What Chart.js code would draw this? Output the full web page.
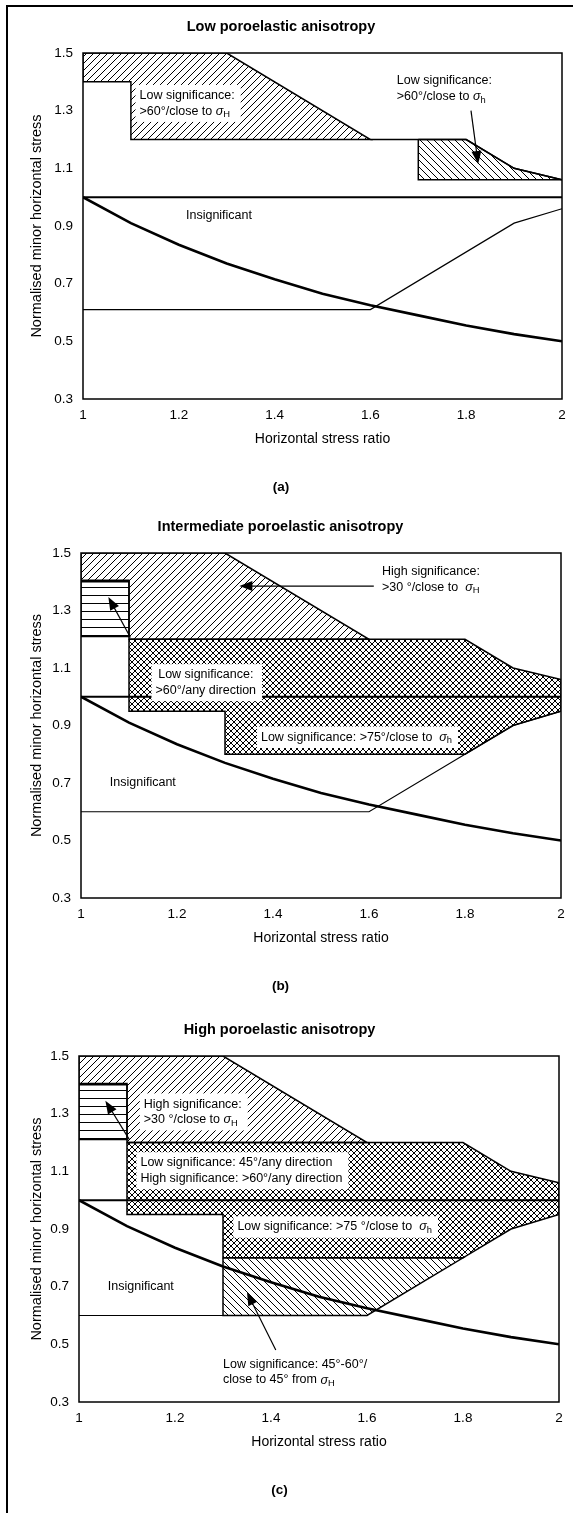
<!DOCTYPE html>
<html>
<head>
<meta charset="utf-8">
<script src="https://cdn.jsdelivr.net/npm/chart.js@4.4.1/dist/chart.umd.min.js"></script>
<style>
  body { margin: 0; background: #fff; }
  #page { position: relative; width: 576px; height: 1513px; overflow: hidden; }
  #frame { position: absolute; left: 6px; top: 5px; width: 565px; height: 1520px; border-left: 2px solid #000; border-top: 2px solid #000; }
  canvas { position: absolute; left: 0; }
</style>
</head>
<body>
<div id="page">
  <div id="frame"></div>
  <canvas id="chartA" width="576" height="500" style="top:0px"></canvas>
  <canvas id="chartB" width="576" height="500" style="top:500px"></canvas>
  <canvas id="chartC" width="576" height="510" style="top:1003px"></canvas>
</div>
<script>
// tick labels
const xTicks = [1, 1.2, 1.4, 1.6, 1.8, 2];
const yTicks = [0.3, 0.5, 0.7, 0.9, 1.1, 1.3, 1.5];

// thick curve
const curveRatio = [1, 1.1, 1.2, 1.3, 1.4, 1.5, 1.6, 1.7, 1.8, 1.9, 2];
const curveStress = [1.0, 0.91, 0.835, 0.77, 0.715, 0.665, 0.625, 0.59, 0.555, 0.525, 0.5];

// horizontal line at 1.0
const unitRatio = [1, 2];
const unitStress = [1, 1];

// thin lower boundary
const lowerRatio = [1, 1.6, 1.9, 2];
const lowerStressA = [0.61, 0.61, 0.91, 0.96];
const lowerStressB = [0.6, 0.6, 0.9, 0.95];
const lowerRatioC = [1, 1.3];
const lowerStressC = [0.6, 0.6];

// upper hatched zone
const upperRatio = [1, 1.3, 1.6, 1.1, 1.1, 1, 1];
const upperStress = [1.5, 1.5, 1.2, 1.2, 1.4, 1.4, 1.5];

// ridge on the right (panel a)
const ridgeRatio = [1.6, 1.8, 1.9, 2];
const ridgeStress = [1.2, 1.2, 1.1, 1.06];

// small hatched corner (panel a)
const cornerRatio = [1.7, 1.8, 1.9, 2, 1.7, 1.7];
const cornerStress = [1.2, 1.2, 1.1, 1.06, 1.06, 1.2];

// box with horizontal lines
const boxRatio = [1, 1.1, 1.1, 1, 1];
const boxStress = [1.405, 1.405, 1.21, 1.21, 1.405];

// cross hatched zone
const crossRatio = [1.1, 1.8, 1.9, 2, 2, 1.9, 1.8, 1.3, 1.3, 1.1, 1.1];
const crossStress = [1.2, 1.2, 1.1, 1.06, 0.95, 0.9, 0.8, 0.8, 0.95, 0.95, 1.2];

// lower wedge (panel c)
const wedgeRatio = [1.3, 1.8, 1.6, 1.3, 1.3];
const wedgeStress = [0.8, 0.8, 0.6, 0.6, 0.8];

const FONT = '"Liberation Sans", Arial, Helvetica, sans-serif';
Chart.defaults.font.family = FONT;
Chart.defaults.color = '#000';

const pts = (xs, ys) => xs.map((x, i) => ({ x: x, y: ys[i] }));

// hatch patterns
function hatch(w, h, draw) {
  const c = document.createElement('canvas');
  c.width = w; c.height = h;
  const g = c.getContext('2d');
  g.strokeStyle = '#000';
  g.lineWidth = 1;
  g.beginPath();
  draw(g, w, h);
  g.stroke();
  return g.createPattern(c, 'repeat');
}
const forward = hatch(7, 7, (g, s) => { for (const k of [-s, 0, s]) { g.moveTo(k, s); g.lineTo(k + s, 0); } });
const backward = hatch(7, 7, (g, s) => { for (const k of [-s, 0, s]) { g.moveTo(k, 0); g.lineTo(k + s, s); } });
const cross = hatch(6, 6, (g, s) => {
  for (const k of [-s, 0, s]) { g.moveTo(k, s); g.lineTo(k + s, 0); g.moveTo(k, 0); g.lineTo(k + s, s); }
});
const stripes = hatch(8, 8, (g, w, h) => { g.moveTo(0, h - 0.5); g.lineTo(w, h - 0.5); });

function line(xs, ys, width) {
  return { data: pts(xs, ys), fill: false, borderColor: '#000', borderWidth: width, pointRadius: 0 };
}
function area(xs, ys, pattern) {
  return { data: pts(xs, ys), fill: 'shape', backgroundColor: pattern, borderColor: '#000', borderWidth: 1.5, pointRadius: 0 };
}

// text with optional sigma subscript written as σ_H
function pieces(str) {
  const i = str.indexOf('σ_');
  if (i < 0) return [{ t: str }];
  return [{ t: str.slice(0, i) }, { t: 'σ', it: true }, { t: str.slice(i + 2), sub: true }];
}
function pieceFont(p, size) {
  return (p.it ? 'italic ' : '') + (p.sub ? size * 0.75 : size) + 'px ' + FONT;
}
function measureRich(ctx, str, size) {
  let w = 0;
  pieces(str).forEach(p => { ctx.font = pieceFont(p, size); w += ctx.measureText(p.t).width; });
  return w;
}
function drawRich(ctx, str, x, y, size) {
  ctx.textBaseline = 'middle';
  ctx.textAlign = 'left';
  pieces(str).forEach(p => {
    ctx.font = pieceFont(p, size);
    ctx.fillText(p.t, x, p.sub ? y + 3.5 : y);
    x += ctx.measureText(p.t).width;
  });
}

function drawArrow(ctx, x1, y1, x2, y2) {
  const ang = Math.atan2(y2 - y1, x2 - x1);
  const len = 13, half = 5;
  ctx.strokeStyle = '#000';
  ctx.lineWidth = 1.2;
  ctx.beginPath();
  ctx.moveTo(x1, y1);
  ctx.lineTo(x2 - Math.cos(ang) * len * 0.8, y2 - Math.sin(ang) * len * 0.8);
  ctx.stroke();
  ctx.fillStyle = '#000';
  ctx.beginPath();
  ctx.moveTo(x2, y2);
  ctx.lineTo(x2 - Math.cos(ang) * len - Math.sin(ang) * half, y2 - Math.sin(ang) * len + Math.cos(ang) * half);
  ctx.lineTo(x2 - Math.cos(ang) * len + Math.sin(ang) * half, y2 - Math.sin(ang) * len - Math.cos(ang) * half);
  ctx.closePath();
  ctx.fill();
}

function notes(labels, arrows) {
  return {
    id: 'notes',
    afterDatasetsDraw(chart) {
      const { ctx, chartArea: a, scales: { x, y } } = chart;
      ctx.save();
      ctx.strokeStyle = '#000';
      ctx.lineWidth = 1.5;
      ctx.strokeRect(a.left, a.top, a.width, a.height);
      arrows.forEach(r => drawArrow(ctx, x.getPixelForValue(r[0]), y.getPixelForValue(r[1]),
                                         x.getPixelForValue(r[2]), y.getPixelForValue(r[3])));
      labels.forEach(lb => {
        const size = 12.5, lh = 15.5;
        const px = x.getPixelForValue(lb.x), py = y.getPixelForValue(lb.y);
        const widths = lb.lines.map(t => measureRich(ctx, t, size));
        const w = Math.max(...widths);
        const left = lb.align === 'center' ? px - w / 2 : px;
        if (lb.box) {
          ctx.fillStyle = '#fff';
          ctx.fillRect(left - 4, py - lh / 2 - 3, w + 10, lh * lb.lines.length + 6);
        }
        ctx.fillStyle = '#000';
        lb.lines.forEach((t, i) => {
          const lx = lb.align === 'center' ? px - widths[i] / 2 : px;
          drawRich(ctx, t, lx, py + i * lh, size);
        });
      });
      ctx.restore();
    }
  };
}

const panels = [
  {
    id: 'chartA', title: 'Low poroelastic anisotropy', letter: '(a)',
    left: 83, right: 562, top: 53, bottom: 399, height: 500,
    datasets: [
      line(curveRatio, curveStress, 2.6),
      line(unitRatio, unitStress, 2),
      line(lowerRatio, lowerStressA, 1.2),
      line(ridgeRatio, ridgeStress, 1.5),
      area(cornerRatio, cornerStress, backward),
      area(upperRatio, upperStress, forward)
    ],
    labels: [
      { x: 1.118, y: 1.352, lines: ['Low significance:', '>60°/close to σ_H'], box: true },
      { x: 1.655, y: 1.403, lines: ['Low significance:', '>60°/close to σ_h'] },
      { x: 1.215, y: 0.935, lines: ['Insignificant'] }
    ],
    arrows: [[1.81, 1.30, 1.825, 1.115]]
  },
  {
    id: 'chartB', title: 'Intermediate poroelastic anisotropy', letter: '(b)',
    left: 81, right: 561, top: 53, bottom: 398, height: 500,
    datasets: [
      line(curveRatio, curveStress, 2.6),
      line(unitRatio, unitStress, 2),
      line(lowerRatio, lowerStressB, 1.2),
      area(boxRatio, boxStress, stripes),
      area(crossRatio, crossStress, cross),
      area(upperRatio, upperStress, forward)
    ],
    labels: [
      { x: 1.627, y: 1.435, lines: ['High significance:', '>30 °/close to  σ_H'] },
      { x: 1.26, y: 1.076, lines: ['Low significance:', '>60°/any direction'], align: 'center', box: true },
      { x: 1.574, y: 0.859, lines: ['Low significance: >75°/close to  σ_h'], align: 'center', box: true },
      { x: 1.06, y: 0.70, lines: ['Insignificant'] }
    ],
    arrows: [[1.61, 1.385, 1.33, 1.385], [1.103, 1.206, 1.057, 1.347]]
  },
  {
    id: 'chartC', title: 'High poroelastic anisotropy', letter: '(c)',
    left: 79, right: 559, top: 53, bottom: 399, height: 510,
    datasets: [
      line(curveRatio, curveStress, 2.6),
      line(unitRatio, unitStress, 2),
      line(lowerRatioC, lowerStressC, 1.2),
      area(wedgeRatio, wedgeStress, backward),
      area(boxRatio, boxStress, stripes),
      area(crossRatio, crossStress, cross),
      area(upperRatio, upperStress, forward)
    ],
    labels: [
      { x: 1.135, y: 1.333, lines: ['High significance:', '>30 °/close to σ_H'], box: true },
      { x: 1.128, y: 1.129, lines: ['Low significance: 45°/any direction', 'High significance: >60°/any direction'], box: true },
      { x: 1.33, y: 0.907, lines: ['Low significance: >75 °/close to  σ_h'], box: true },
      { x: 1.06, y: 0.70, lines: ['Insignificant'] },
      { x: 1.30, y: 0.43, lines: ['Low significance: 45°-60°/', 'close to 45° from σ_H'] }
    ],
    arrows: [[1.105, 1.21, 1.055, 1.345], [1.41, 0.48, 1.35, 0.68]]
  }
];

panels.forEach(p => {
  const below = p.height - p.bottom;
  new Chart(document.getElementById(p.id), {
    type: 'line',
    data: { datasets: p.datasets },
    options: {
      responsive: false,
      animation: false,
      events: [],
      layout: { padding: { left: 0, right: 576 - p.right, top: 0, bottom: 0 } },
      plugins: {
        legend: { display: false },
        tooltip: { enabled: false },
        title: {
          display: true, text: p.title, color: '#000',
          font: { size: 14.5, weight: 'bold' },
          padding: { top: 18.3, bottom: p.top - 18.3 - 17.4 }
        },
        subtitle: {
          display: true, position: 'bottom', text: p.letter, color: '#000',
          font: { size: 13.5, weight: 'bold' },
          padding: { top: 31.5, bottom: below - 48.4 - 31.5 - 16.2 }
        }
      },
      scales: {
        x: {
          type: 'linear', min: 1, max: 2,
          grid: { display: false, drawTicks: false },
          border: { display: false },
          afterBuildTicks: s => { s.ticks = xTicks.map(v => ({ value: v })); },
          afterFit: s => { s.height = 48.4; },
          ticks: { color: '#000', font: { size: 13.5 }, padding: 8, maxRotation: 0, autoSkip: false, callback: v => String(v) },
          title: { display: true, text: 'Horizontal stress ratio', color: '#000', font: { size: 14 }, padding: 0 }
        },
        y: {
          type: 'linear', min: 0.3, max: 1.5,
          grid: { display: false, drawTicks: false },
          border: { display: false },
          afterBuildTicks: s => { s.ticks = yTicks.map(v => ({ value: v })); },
          afterFit: s => { s.width = p.left; },
          ticks: { color: '#000', font: { size: 13.5 }, padding: 10, autoSkip: false, callback: v => String(v) },
          title: { display: true, text: 'Normalised minor horizontal stress', color: '#000', font: { size: 14.5 }, padding: { top: 28.3, bottom: 0 } }
        }
      }
    },
    plugins: [notes(p.labels, p.arrows)]
  });
});
</script>
</body>
</html>
